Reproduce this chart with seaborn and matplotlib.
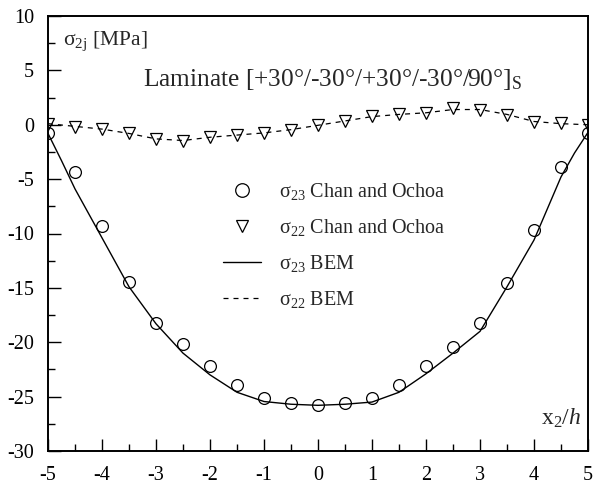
import numpy as np
import pandas as pd
import matplotlib
matplotlib.use("Agg")
import matplotlib.pyplot as plt
import seaborn as sns

# ---------------- data ----------------
x_pts = [-5, -4.5, -4, -3.5, -3, -2.5, -2, -1.5, -1, -0.5, 0,
         0.5, 1, 1.5, 2, 2.5, 3, 3.5, 4, 4.5, 5]
s23_chan = [-0.8, -4.3, -9.3, -14.45, -18.2, -20.2, -22.2, -23.9, -25.1, -25.55, -25.8,
            -25.55, -25.1, -23.9, -22.2, -20.4, -18.2, -14.55, -9.65, -3.9, -0.75]
s22_chan = [0.05, -0.2, -0.35, -0.8, -1.35, -1.5, -1.1, -0.95, -0.75, -0.5, -0.05,
            0.35, 0.8, 1.0, 1.1, 1.5, 1.4, 0.9, 0.25, 0.15, 0.0]

x_bem23 = [-5, -4.75, -4.5, -4, -3.5, -3, -2.5, -2, -1.5, -1, -0.5, 0,
           0.5, 1, 1.5, 2, 2.5, 3, 3.5, 4, 4.5, 4.75, 5]
s23_bem = [-0.8, -3.3, -5.9, -10.4, -14.9, -18.3, -21.0, -23.0, -24.6, -25.45, -25.7, -25.8,
           -25.7, -25.5, -24.6, -22.9, -21.0, -19.0, -14.9, -10.6, -4.8, -2.6, -0.7]
x_bem22 = [-5, -4.5, -4, -3.5, -3, -2.5, -2, -1.5, -1, -0.5, 0,
           0.5, 1, 1.5, 2, 2.5, 3, 3.5, 4, 4.5, 5]
s22_bem = [0.1, -0.15, -0.4, -0.8, -1.3, -1.45, -1.15, -0.95, -0.75, -0.45, -0.05,
           0.35, 0.75, 0.95, 1.1, 1.4, 1.4, 0.95, 0.3, 0.1, 0.0]

x_ticks = [-5, -4, -3, -2, -1, 0, 1, 2, 3, 4, 5]
y_ticks = [10, 5, 0, -5, -10, -15, -20, -25, -30]

labels = ["σ$_{23}$ Chan and Ochoa", "σ$_{22}$ Chan and Ochoa",
          "σ$_{23}$ BEM", "σ$_{22}$ BEM"]

# ---------------- style ----------------
sns.set_style("ticks")
plt.rcParams["font.family"] = ["Liberation Serif", "DejaVu Serif"]
plt.rcParams["mathtext.fontset"] = "custom"
plt.rcParams["mathtext.rm"] = "Liberation Serif"
plt.rcParams["mathtext.it"] = "Liberation Serif:italic"
plt.rcParams["mathtext.default"] = "regular"

fig = plt.figure(figsize=(5.94, 4.88), dpi=100)
ax = fig.add_axes([48 / 594, 1 - 451 / 488, 540 / 594, 435 / 488])

df_c = pd.DataFrame({"x": x_pts, "s23": s23_chan, "s22": s22_chan})
df_b23 = pd.DataFrame({"x": x_bem23, "y": s23_bem})
df_b22 = pd.DataFrame({"x": x_bem22, "y": s22_bem})

sns.lineplot(data=df_c, x="x", y="s23", ax=ax, linestyle="", marker="o",
             markersize=8.5, markerfacecolor="none", markeredgecolor="black",
             markeredgewidth=0.9, color="black", label=labels[0], sort=False)
sns.lineplot(data=df_c, x="x", y="s22", ax=ax, linestyle="", marker="v",
             markersize=8, markerfacecolor="none", markeredgecolor="black",
             markeredgewidth=0.9, color="black", label=labels[1], sort=False)
sns.lineplot(data=df_b23, x="x", y="y", ax=ax, color="black", linewidth=1.0,
             label=labels[2], sort=False)
sns.lineplot(data=df_b22, x="x", y="y", ax=ax, color="black", linewidth=0.9,
             dashes=False, linestyle=(0, (4, 4)), label=labels[3], sort=False)

ax.set_xlim(-5, 5)
ax.set_ylim(-30, 10)
ax.set_xticks(x_ticks)
ax.set_yticks(y_ticks)
ax.set_xticklabels([str(t) for t in x_ticks])
ax.set_yticklabels([str(t) for t in y_ticks])
ax.set_xticks(np.arange(-4.5, 5, 1.0), minor=True)
ax.set_yticks(np.arange(-27.5, 10, 5.0), minor=True)
ax.tick_params(which="both", direction="in", top=False, right=False,
               labelsize=14.5, colors="black", width=1.0)
ax.tick_params(axis="y", which="major", length=9, pad=10)
ax.tick_params(axis="y", which="minor", length=5)
ax.tick_params(axis="x", which="major", length=9, pad=10.5)
ax.tick_params(axis="x", which="minor", length=5)
for sp in ax.spines.values():
    sp.set_visible(True)
    sp.set_linewidth(1.4)
    sp.set_color("black")
ax.set_xlabel("")
ax.set_ylabel("")

ax.text(-4.72, 7.33, "σ$_{2j}$ [MPa]", fontsize=15.5, va="baseline", ha="left")
ax.text(-3.24, 3.56, "Laminate [+30°/-30°/+30°/-30°/90°]$_S$", fontsize=18.3,
        va="baseline", ha="left")
ax.text(4.87, -27.55, r"x$_2$/$\mathit{h}$", fontsize=17, va="baseline", ha="right")

leg = ax.legend(loc="upper left", bbox_to_anchor=(0.324, 0.621), frameon=False,
                fontsize=14.5, handlelength=1.9, handletextpad=0.9,
                labelspacing=0.75, borderpad=0, borderaxespad=0, markerscale=1.15)

fig.savefig("out.png", dpi=100)
